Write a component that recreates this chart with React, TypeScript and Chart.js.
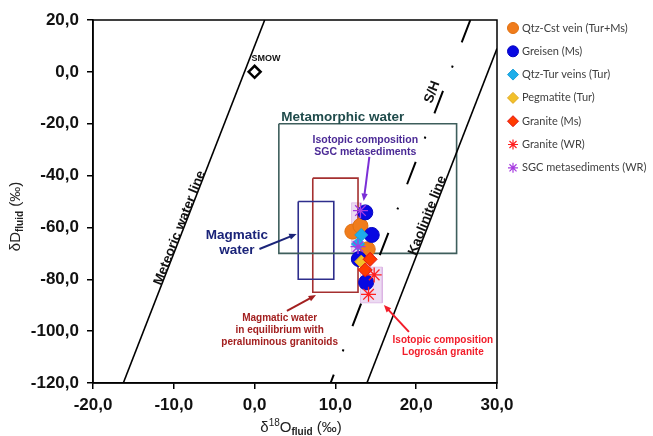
import React, { useEffect, useRef } from "react";
import { Chart, registerables } from "chart.js";
import { drawPoint } from "chart.js/helpers";
Chart.register(...registerables);

// ---- Axis ticks ----
const xTickValues = [-20, -10, 0, 10, 20, 30];
const yTickValues = [-120, -100, -80, -60, -40, -20, 0, 20];

// ---- Series names ----
const seriesNames = [
  "Qtz-Cst vein (Tur+Ms)",
  "Greisen (Ms)",
  "Qtz-Tur veins (Tur)",
  "Pegmatite (Tur)",
  "Granite (Ms)",
  "Granite (WR)",
  "SGC metasediments (WR)",
];

// ---- Data: δ18O (x) and δD (y) ----
const qtzCstO = [12.1, 13.1, 14.0];
const qtzCstD = [-61.6, -59.4, -68.4];
const greisenO = [13.7, 14.5, 12.9, 13.8];
const greisenD = [-54.2, -62.9, -72.2, -81.2];
const qtzTurO = [13.2, 12.8];
const qtzTurD = [-62.9, -66.4];
const pegmatiteO = [13.2];
const pegmatiteD = [-73.2];
const graniteMsO = [14.3, 13.7];
const graniteMsD = [-72.3, -76.4];
const graniteWrO = [14.8, 14.1];
const graniteWrD = [-78.3, -85.8];
const sgcO = [13.1, 12.8];
const sgcD = [-53.5, -67.4];

const smowO = [0];
const smowD = [0];

// reference lines
const meteoricO = [-16.25, 1.25];
const meteoricD = [-120, 20];
const kaoliniteO = [13.9, 30];
const kaoliniteD = [-120, 9];
const shO = [26.7, 9.4];
const shD = [20, -120];

// fields: [xMin, xMax, yTop, yBottom]
const metamorphicBox = [3, 25, -20, -70];
const magmaticBox = [5.4, 9.8, -50, -80];
const peraluminousBox = [7.2, 12.8, -41, -85];
const sgcField = [12.0, 13.2, -50.5, -69.5];
const logrosanField = [13.1, 15.8, -75.3, -89.1];

const pts = (o: number[], d: number[]) => o.map((x, i) => ({ x, y: d[i] }));
const box = (b: number[]) => [
  { x: b[0], y: b[2] },
  { x: b[1], y: b[2] },
  { x: b[1], y: b[3] },
  { x: b[0], y: b[3] },
  { x: b[0], y: b[2] },
];

const seriesStyles = [
  { o: qtzCstO, d: qtzCstD, style: "circle", fill: "#F07C1C", stroke: "#E0700F", r: 7.5, lr: 5.5 },
  { o: greisenO, d: greisenD, style: "circle", fill: "#0808E2", stroke: "#0606C0", r: 7.5, lr: 5.5 },
  { o: qtzTurO, d: qtzTurD, style: "rectRot", fill: "#1EAEEA", stroke: "#1A9FD8", r: 6.5, lr: 5.5 },
  { o: pegmatiteO, d: pegmatiteD, style: "rectRot", fill: "#F2C02A", stroke: "#E0A820", r: 6.5, lr: 5.5 },
  { o: graniteMsO, d: graniteMsD, style: "rectRot", fill: "#FF3C00", stroke: "#E01010", r: 7, lr: 5.5 },
  { o: graniteWrO, d: graniteWrD, style: "star", fill: "#FF2020", stroke: "#FF2020", r: 7.5, lr: 5 },
  { o: sgcO, d: sgcD, style: "star", fill: "#A63CE0", stroke: "#A63CE0", r: 7.5, lr: 5 },
];

// annotations in data coordinates
const annotationTexts = [
  { lines: ["SMOW"], x: -0.37, y: 5.3, color: "#111", font: "bold 9px Arial", align: "left", lh: 10 },
  { lines: ["Metamorphic water"], x: 3.3, y: -17.4, color: "#1F4B4B", font: "bold 13.5px Arial", align: "left", lh: 15 },
  { lines: ["Isotopic composition", "SGC metasediments"], x: 13.7, y: -26.3, color: "#4B2A96", font: "bold 10.5px Arial", align: "center", lh: 12.5 },
  { lines: ["Magmatic", "water"], x: -2.2, y: -62.9, color: "#1B2479", font: "bold 13.5px Arial", align: "center", lh: 15 },
  { lines: ["Magmatic water", "in equilibrium with", "peraluminous granitoids"], x: 3.1, y: -94.9, color: "#A32020", font: "bold 10px Arial", align: "center", lh: 12 },
  { lines: ["Isotopic composition", "Logrosán granite"], x: 23.3, y: -103.4, color: "#F21D2A", font: "bold 10px Arial", align: "center", lh: 12 },
];
const lineLabels = [
  { text: "Meteoric water line", x: -9.26, y: -60.2, lo: meteoricO, ld: meteoricD },
  { text: "Kaolinite line", x: 21.4, y: -55.4, lo: kaoliniteO, ld: kaoliniteD },
  { text: "S/H", x: 22.0, y: -7.8, lo: [9.4, 26.7], ld: [-120, 20] },
];
const arrows = [
  { from: [14.2, -32.8], to: [13.5, -49.8], color: "#7B2FD6" },
  { from: [0.6, -68.3], to: [5.2, -62.5], color: "#1B2479" },
  { from: [4.0, -92.2], to: [7.6, -86.1], color: "#A32020" },
  { from: [19.1, -100.3], to: [16.0, -89.9], color: "#F21D2A" },
];

const fmt = (v: number) => Number(v).toFixed(1).replace(".", ",");

function drawComposite(ctx: CanvasRenderingContext2D, parts: { t: string; font: string; dy: number }[], cx: number, cy: number) {
  let total = 0;
  for (const p of parts) {
    ctx.font = p.font;
    total += ctx.measureText(p.t).width;
  }
  let x = cx - total / 2;
  ctx.textAlign = "left";
  ctx.textBaseline = "alphabetic";
  for (const p of parts) {
    ctx.font = p.font;
    ctx.fillText(p.t, x, cy + p.dy);
    x += ctx.measureText(p.t).width;
  }
}

const decorPlugin = {
  id: "decor",
  afterDatasetsDraw(chart: any) {
    const ctx: CanvasRenderingContext2D = chart.ctx;
    const xs = chart.scales.x;
    const ys = chart.scales.y;
    ctx.save();
    // arrows
    for (const a of arrows) {
      const x1 = xs.getPixelForValue(a.from[0]);
      const y1 = ys.getPixelForValue(a.from[1]);
      const x2 = xs.getPixelForValue(a.to[0]);
      const y2 = ys.getPixelForValue(a.to[1]);
      const ang = Math.atan2(y2 - y1, x2 - x1);
      const hl = 8;
      ctx.strokeStyle = a.color;
      ctx.fillStyle = a.color;
      ctx.lineWidth = 2;
      ctx.beginPath();
      ctx.moveTo(x1, y1);
      ctx.lineTo(x2 - Math.cos(ang) * hl * 0.8, y2 - Math.sin(ang) * hl * 0.8);
      ctx.stroke();
      ctx.beginPath();
      ctx.moveTo(x2, y2);
      ctx.lineTo(x2 - hl * Math.cos(ang - 0.4), y2 - hl * Math.sin(ang - 0.4));
      ctx.lineTo(x2 - hl * Math.cos(ang + 0.4), y2 - hl * Math.sin(ang + 0.4));
      ctx.closePath();
      ctx.fill();
    }
    // texts
    for (const t of annotationTexts) {
      ctx.font = t.font;
      ctx.fillStyle = t.color;
      ctx.textAlign = t.align as CanvasTextAlign;
      ctx.textBaseline = "middle";
      const px = xs.getPixelForValue(t.x);
      const py = ys.getPixelForValue(t.y);
      t.lines.forEach((ln, i) => ctx.fillText(ln, px, py + i * t.lh));
    }
    // rotated line labels
    for (const l of lineLabels) {
      const ax = xs.getPixelForValue(l.lo[0]);
      const ay = ys.getPixelForValue(l.ld[0]);
      const bx = xs.getPixelForValue(l.lo[1]);
      const by = ys.getPixelForValue(l.ld[1]);
      const ang = Math.atan2(by - ay, bx - ax);
      ctx.save();
      ctx.translate(xs.getPixelForValue(l.x), ys.getPixelForValue(l.y));
      ctx.rotate(ang);
      ctx.font = "bold 13.5px Arial";
      ctx.fillStyle = "#111";
      ctx.textAlign = "center";
      ctx.textBaseline = "middle";
      ctx.fillText(l.text, 0, 0);
      ctx.restore();
    }
    ctx.restore();
  },
  afterDraw(chart: any) {
    const ctx: CanvasRenderingContext2D = chart.ctx;
    const a = chart.chartArea;
    ctx.save();
    // frame
    ctx.strokeStyle = "#000";
    ctx.lineWidth = 1.5;
    ctx.strokeRect(a.left, a.top, a.right - a.left, a.bottom - a.top);
    // axis titles
    ctx.fillStyle = "#222";
    drawComposite(
      ctx,
      [
        { t: "δ", font: "15px Arial", dy: 0 },
        { t: "18", font: "10px Arial", dy: -6 },
        { t: "O", font: "15px Arial", dy: 0 },
        { t: "fluid", font: "bold 10px Arial", dy: 3 },
        { t: " (‰)", font: "15px Arial", dy: 0 },
      ],
      (a.left + a.right) / 2 + 6,
      432
    );
    ctx.save();
    ctx.translate(20, (a.top + a.bottom) / 2 + 15);
    ctx.rotate(-Math.PI / 2);
    drawComposite(
      ctx,
      [
        { t: "δD", font: "15px Arial", dy: 0 },
        { t: "fluid", font: "bold 10px Arial", dy: 3 },
        { t: " (‰)", font: "15px Arial", dy: 0 },
      ],
      0,
      0
    );
    ctx.restore();
    // legend
    const lx = a.right + 16;
    const ly0 = a.top + 8;
    const step = 23.3;
    seriesStyles.forEach((s, i) => {
      const y = ly0 + i * step;
      ctx.fillStyle = s.fill;
      ctx.strokeStyle = s.stroke;
      ctx.lineWidth = s.style === "star" ? 1.2 : 1;
      drawPoint(ctx, { pointStyle: s.style as any, radius: s.lr, rotation: 0, borderWidth: 1 }, lx, y);
      ctx.fillStyle = "#404040";
      ctx.font = "11px Lato";
      ctx.textAlign = "left";
      ctx.textBaseline = "middle";
      ctx.fillText(seriesNames[i], lx + 9, y);
    });
    ctx.restore();
  },
};

export default function App() {
  const ref = useRef<HTMLCanvasElement | null>(null);
  useEffect(() => {
    if (!ref.current) return;
    const datasets: any[] = [];
    seriesStyles.forEach((s, i) => {
      datasets.push({
        type: "scatter",
        label: seriesNames[i],
        data: pts(s.o, s.d),
        pointStyle: s.style,
        pointRadius: s.r,
        pointBackgroundColor: s.fill,
        pointBorderColor: s.stroke,
        pointBorderWidth: s.style === "star" ? 1.3 : 1,
        showLine: false,
        order: 7 - i,
      });
    });
    datasets.push({
      type: "scatter",
      label: "SMOW",
      data: pts(smowO, smowD),
      pointStyle: "rectRot",
      pointRadius: 6,
      pointBackgroundColor: "#fff",
      pointBorderColor: "#000",
      pointBorderWidth: 2.5,
      order: 8,
    });
    const lineDs = (label: string, data: any[], color: string, width: number, dash: number[] = [], order = 20) => ({
      type: "line",
      label,
      data,
      borderColor: color,
      borderWidth: width,
      borderDash: dash,
      pointRadius: 0,
      fill: false,
      tension: 0,
      order,
    });
    datasets.push(lineDs("Meteoric water line", pts(meteoricO, meteoricD), "#000", 1.6));
    datasets.push(lineDs("Kaolinite line", pts(kaoliniteO, kaoliniteD), "#000", 1.6));
    datasets.push(lineDs("S/H", pts(shO, shD), "#000", 2, [24, 25, 2, 25]));
    datasets.push(lineDs("Metamorphic water", box(metamorphicBox), "#3E5E5C", 1.6, [], 30));
    datasets.push(lineDs("Magmatic water", box(magmaticBox), "#2E2E8C", 1.6, [], 31));
    datasets.push(lineDs("Peraluminous", box(peraluminousBox), "#A53030", 1.6, [], 32));
    datasets.push({
      ...lineDs("SGC field", box(sgcField), "rgba(215,170,225,0.6)", 1, [], 40),
      fill: "shape",
      backgroundColor: "rgba(220,190,232,0.55)",
    });
    datasets.push({
      ...lineDs("Logrosan field", box(logrosanField), "rgba(215,170,225,0.6)", 1, [], 40),
      fill: "shape",
      backgroundColor: "rgba(220,190,232,0.55)",
    });

    const chart = new Chart(ref.current, {
      type: "scatter",
      data: { datasets },
      plugins: [decorPlugin],
      options: {
        animation: false,
        responsive: false,
        events: [],
        layout: { padding: { top: 20, right: 156, left: 0, bottom: 0 } },
        plugins: { legend: { display: false }, tooltip: { enabled: false } },
        scales: {
          x: {
            type: "linear",
            min: -20,
            max: 30,
            afterFit: (s: any) => {
              s.height = 53;
            },
            afterBuildTicks: (s: any) => {
              s.ticks = xTickValues.map((v) => ({ value: v }));
            },
            ticks: {
              callback: (v: any) => fmt(v),
              font: { family: "Arial", size: 17, weight: "bold" },
              color: "#111",
              padding: 6,
              maxRotation: 0,
            },
            grid: { display: true, drawOnChartArea: false, drawTicks: true, tickLength: 6, color: "#000", lineWidth: 1.5 },
            border: { display: true, color: "#000", width: 1.5 },
          },
          y: {
            type: "linear",
            min: -120,
            max: 20,
            afterFit: (s: any) => {
              s.width = 93;
            },
            afterBuildTicks: (s: any) => {
              s.ticks = yTickValues.map((v) => ({ value: v }));
            },
            ticks: {
              callback: (v: any) => fmt(v),
              font: { family: "Arial", size: 17, weight: "bold" },
              color: "#111",
              padding: 8,
            },
            grid: { display: true, drawOnChartArea: false, drawTicks: true, tickLength: 6, color: "#000", lineWidth: 1.5 },
            border: { display: true, color: "#000", width: 1.5 },
          },
        },
      } as any,
    } as any);
    return () => chart.destroy();
  }, []);
  return (
    <div style={{ position: "absolute", left: 0, top: 0, width: 653, height: 436, background: "#fff" }}>
      <canvas ref={ref} width={653} height={436} style={{ display: "block", width: 653, height: 436 }} />
    </div>
  );
}
